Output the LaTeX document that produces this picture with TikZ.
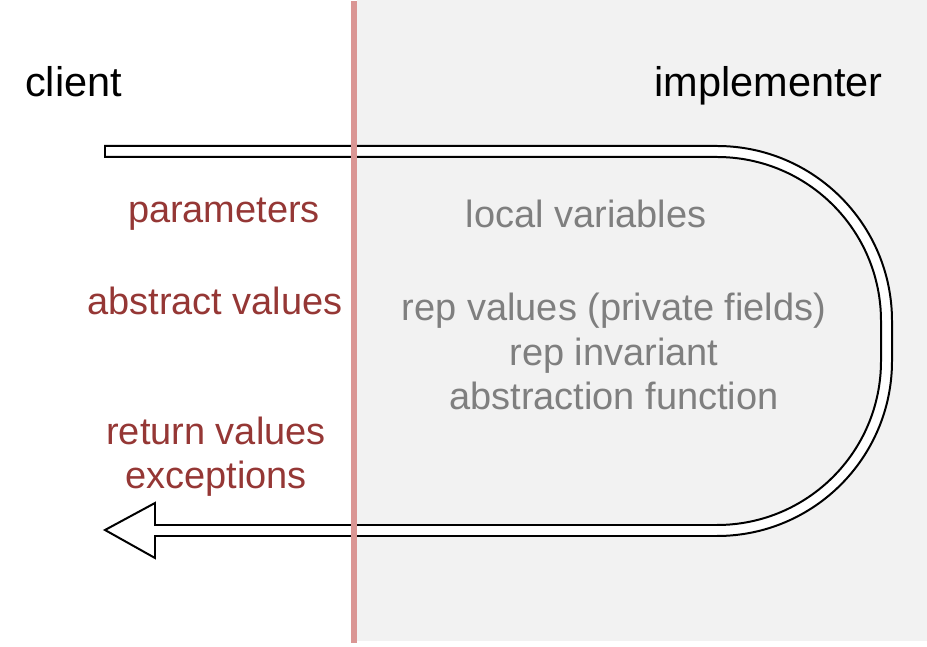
\documentclass[tikz,border=0pt]{standalone}
\usepackage{fontspec}
\setmainfont{Liberation Sans}
\usepackage{tikz}
\usetikzlibrary{positioning}
\definecolor{sidegray}{HTML}{F2F2F2}
\definecolor{wallred}{HTML}{DA9694}
\definecolor{textred}{HTML}{953735}
\definecolor{textgray}{HTML}{7F7F7F}

\begin{document}
\begin{tikzpicture}[x=0.03cm,y=0.03cm]
\tikzstyle{side}=[inner sep=0pt,font=\fontsize{35.4pt}{40pt}\selectfont]
\tikzstyle{outer}=[inner sep=0pt,align=center,text=textred,font=\fontsize{32.4pt}{38.4pt}\selectfont]
\tikzstyle{inner}=[inner sep=0pt,align=center,text=textgray,font=\fontsize{32.4pt}{38.4pt}\selectfont]
\useasboundingbox (0,0) rectangle (927,647);
\fill[sidegray] (357,6) rectangle (927,647);
% the call goes in at the top and comes back at the bottom
\draw[fill=white,line width=1.7pt]
  (105,501) -- (717,501) arc[start angle=90,end angle=0,radius=175]
  -- (892,286) arc[start angle=0,end angle=-90,radius=175]
  -- (155,111) -- (155,89) -- (105,117) -- (155,144) -- (155,122)
  -- (717,122) arc[start angle=-90,end angle=0,radius=164]
  -- (881,326) arc[start angle=0,end angle=90,radius=164]
  -- (105,490) -- cycle;
\coordinate (wtop) at (354,646);
\coordinate (wbot) at (354,4);
\draw[wallred,line width=5.2pt] (wtop) -- (wbot);

\node[side,anchor=base west] (client) at (25,550) {client};
\node[side,anchor=base east] (impl) at (883,550) {implementer};

\node[outer,anchor=base] (params) at (224,424) {parameters};
\node[outer,anchor=base] (absval) at (215,332) {abstract values};
%% base of a multi-line node is its last line
\node[outer,anchor=base] (retval) at (216,158) {return values\\exceptions};

\node[inner,anchor=base] (locals) at (586,419) {local variables};
\node[inner,anchor=base] (rep) at (614,237) {rep values (private fields)\\rep invariant\\abstraction function};
\end{tikzpicture}
\end{document}
